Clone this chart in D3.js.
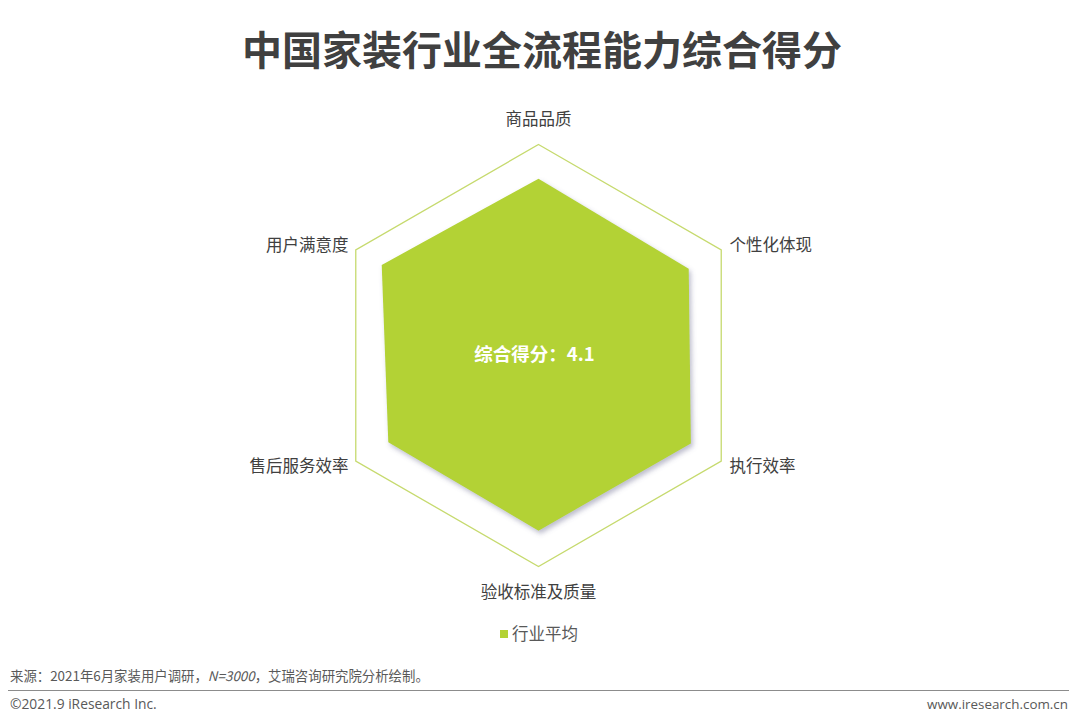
<!DOCTYPE html>
<html>
<head>
<meta charset="utf-8">
<title>中国家装行业全流程能力综合得分</title>
<script src="https://cdn.jsdelivr.net/npm/d3@7"></script>
<style>
  body { margin: 0; background: #fff; }
  svg { display: block; font-family: "Noto Sans CJK SC", "Noto Sans", sans-serif; }
</style>
</head>
<body>
<div id="chart"></div>
<script>
// data
const axes = ["商品品质", "个性化体现", "执行效率", "验收标准及质量", "售后服务效率", "用户满意度"];
const avgScores = [4.19, 4.11, 4.17, 4.15, 4.11, 4.29];
const gridLevels = [5];
const seriesName = "行业平均";
const totalScore = "4.1";

const w = 1080, h = 725;
const cx = 538.5, cy = 355.5, R = 211;

const svg = d3.select("#chart").append("svg")
    .attr("width", w)
    .attr("height", h);

const defs = svg.append("defs");
const shadow = defs.append("filter").attr("id", "shadow")
    .attr("x", "-10%").attr("y", "-10%").attr("width", "120%").attr("height", "120%");
shadow.append("feDropShadow")
    .attr("dx", 2).attr("dy", 3).attr("stdDeviation", 2.5)
    .attr("flood-color", "#6b6b90").attr("flood-opacity", 0.45);

// title
svg.append("text")
    .attr("x", 542).attr("y", 65)
    .attr("text-anchor", "middle")
    .attr("font-size", 40).attr("font-weight", 700)
    .attr("fill", "#404040")
    .text("中国家装行业全流程能力综合得分");

const rScale = d3.scaleLinear().domain([0, 5]).range([0, R]);
const angle = d3.scalePoint().domain(d3.range(axes.length + 1)).range([0, 2 * Math.PI]);

const g = svg.append("g").attr("transform", `translate(${cx},${cy})`);

const radial = d3.lineRadial()
    .angle((d, i) => angle(i))
    .radius(d => rScale(d))
    .curve(d3.curveLinearClosed);

// grid hexagon
g.selectAll("path.grid")
    .data(gridLevels)
    .enter().append("path")
    .attr("class", "grid")
    .attr("d", lv => radial(axes.map(() => lv)))
    .attr("fill", "none")
    .attr("stroke", "#c6da6e")
    .attr("stroke-width", 1.3);

// series area
g.append("path")
    .attr("d", radial(avgScores))
    .attr("fill", "#b3d234")
    .attr("filter", "url(#shadow)");

// axis labels
const labelPos = [
    { dx: 0, dy: -236, anchor: "middle" },
    { dx: 191, dy: -110, anchor: "start" },
    { dx: 191, dy: 111, anchor: "start" },
    { dx: 0, dy: 237, anchor: "middle" },
    { dx: -190, dy: 111, anchor: "end" },
    { dx: -190, dy: -110, anchor: "end" }
];
g.selectAll("text.axis")
    .data(axes)
    .enter().append("text")
    .attr("class", "axis")
    .attr("x", (d, i) => labelPos[i].dx)
    .attr("y", (d, i) => labelPos[i].dy)
    .attr("dy", "0.35em")
    .attr("text-anchor", (d, i) => labelPos[i].anchor)
    .attr("font-size", 16.5)
    .attr("fill", "#404040")
    .text(d => d);

// composite score
g.append("text")
    .attr("x", -4).attr("y", -1)
    .attr("dy", "0.35em")
    .attr("text-anchor", "middle")
    .attr("font-size", 18.5).attr("font-weight", 700)
    .attr("fill", "#ffffff")
    .text("综合得分：" + totalScore);

// legend
const lg = svg.append("g").attr("transform", "translate(500,634)");
lg.append("rect").attr("x", 0).attr("y", -4).attr("width", 8).attr("height", 8).attr("fill", "#b3d234");
lg.append("text").attr("x", 12).attr("dy", "0.35em")
    .attr("font-size", 16.5).attr("fill", "#595959")
    .text(seriesName);

// source & footer
const src = svg.append("text")
    .attr("x", 10).attr("y", 681)
    .attr("font-size", 13.4).attr("fill", "#595959");
src.append("tspan").text("来源：2021年6月家装用户调研，");
src.append("tspan").attr("font-style", "italic").text("N=3000");
src.append("tspan").text("，艾瑞咨询研究院分析绘制。");

svg.append("line")
    .attr("x1", 8).attr("x2", 1069)
    .attr("y1", 690.5).attr("y2", 690.5)
    .attr("stroke", "#8c8c8c").attr("stroke-width", 1.2);

svg.append("text")
    .attr("x", 10).attr("y", 709)
    .attr("font-size", 13.8).attr("fill", "#595959")
    .attr("font-family", "'Open Sans', 'Noto Sans', sans-serif")
    .text("©2021.9 iResearch Inc.");

svg.append("text")
    .attr("x", 1068).attr("y", 709)
    .attr("text-anchor", "end")
    .attr("font-size", 13.4).attr("fill", "#595959")
    .attr("font-family", "'Open Sans', 'Noto Sans', sans-serif")
    .text("www.iresearch.com.cn");
</script>
</body>
</html>
